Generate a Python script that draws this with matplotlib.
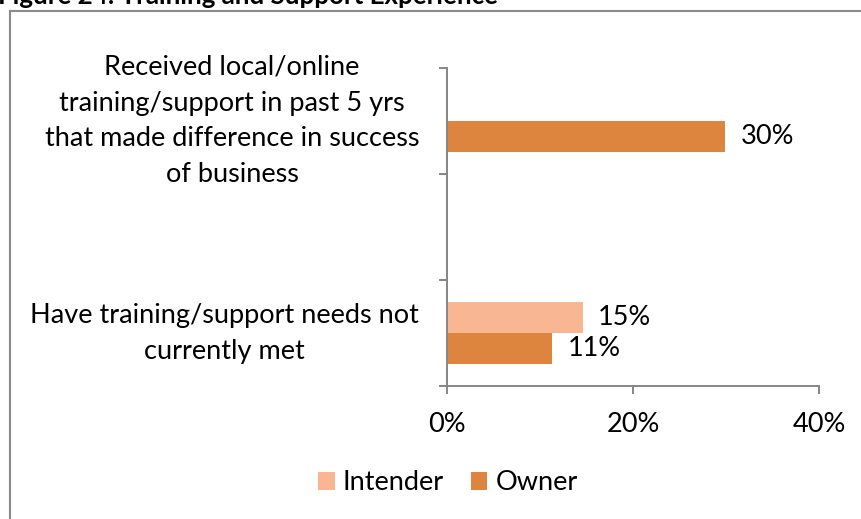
import numpy as np
import matplotlib
matplotlib.use("Agg")
import matplotlib.pyplot as plt
from matplotlib.lines import Line2D

# Survey responses (share of respondents), bottom category first
categories = [
    "Have training/support needs not\ncurrently met",
    "",
    "Received local/online\ntraining/support in past 5 yrs\nthat made difference in success\nof business",
]
intender = [0.146, np.nan, np.nan]
owner = [0.113, np.nan, 0.299]
series_names = ["Intender", "Owner"]
xticks = [0.0, 0.2, 0.4]
xtick_labels = ["0%", "20%", "40%"]
title = "Figure 24: Training and Support Experience"

INTENDER_COLOR = "#F9B692"
OWNER_COLOR = "#DD843F"
AXIS_COLOR = "#868686"
FONT = "Lato"
FS = 19.5

W, H = 862, 519
fig = plt.figure(figsize=(W / 100, H / 100), dpi=100)
fig.patch.set_facecolor("white")

ax = fig.add_axes([447 / W, (H - 386) / H, (819 - 447) / W, (386 - 68) / H])

pos = np.arange(len(categories))
bh = 0.288
b_int = ax.barh(pos + bh / 2, intender, height=bh, color=INTENDER_COLOR, label=series_names[0])
b_own = ax.barh(pos - bh / 2, owner, height=bh, color=OWNER_COLOR, label=series_names[1])

for bars, vals in ((b_int, intender), (b_own, owner)):
    for rect, v in zip(bars, vals):
        if np.isnan(v):
            continue
        ax.annotate(f"{v:.0%}", xy=(v, rect.get_y() + rect.get_height() / 2),
                    xytext=(11, 0), textcoords="offset points",
                    ha="left", va="center", fontsize=FS, family=FONT, color="black")

ax.set_xlim(0, 0.4)
ax.set_ylim(-0.5, len(categories) - 0.5)

ax.set_xticks(xticks)
ax.set_xticklabels(xtick_labels, fontsize=FS, family=FONT)
ax.tick_params(axis="x", direction="out", length=6, width=1.4, color=AXIS_COLOR, pad=13)

ax.set_yticks(pos)
ax.set_yticklabels(categories, fontsize=FS, family=FONT)
ax.set_yticks(np.arange(-0.5, len(categories)), minor=True)
ax.tick_params(axis="y", which="major", length=0, pad=20)
ax.tick_params(axis="y", which="minor", direction="out", length=6, width=1.4, color=AXIS_COLOR)
for lbl in ax.get_yticklabels():
    lbl.set_multialignment("center")
    lbl.set_verticalalignment("center")
    lbl.set_linespacing(1.55)

for side in ("top", "right"):
    ax.spines[side].set_visible(False)
for side in ("left", "bottom"):
    ax.spines[side].set_color(AXIS_COLOR)
    ax.spines[side].set_linewidth(1.4)

leg = fig.legend(handles=[b_int, b_own], labels=series_names, loc="center",
                 bbox_to_anchor=(448 / W, (H - 483) / H), ncol=2, frameon=False,
                 handlelength=0.6, handleheight=0.6, handletextpad=0.3,
                 columnspacing=1.0, prop={"family": FONT, "size": FS})

# Chart frame (extends past the right and bottom edges)
fig.add_artist(Line2D([10.5 / W, 10.5 / W], [0, (H - 11) / H], color="#8a8a8a", lw=1.5))
fig.add_artist(Line2D([10 / W, 1.0], [(H - 11) / H, (H - 11) / H], color="#8a8a8a", lw=1.5))

fig.text(-2 / W, (H - 4) / H, title, fontsize=18.6, fontweight="bold", family=FONT,
         ha="left", va="baseline")

fig.savefig("out.png", dpi=100)
